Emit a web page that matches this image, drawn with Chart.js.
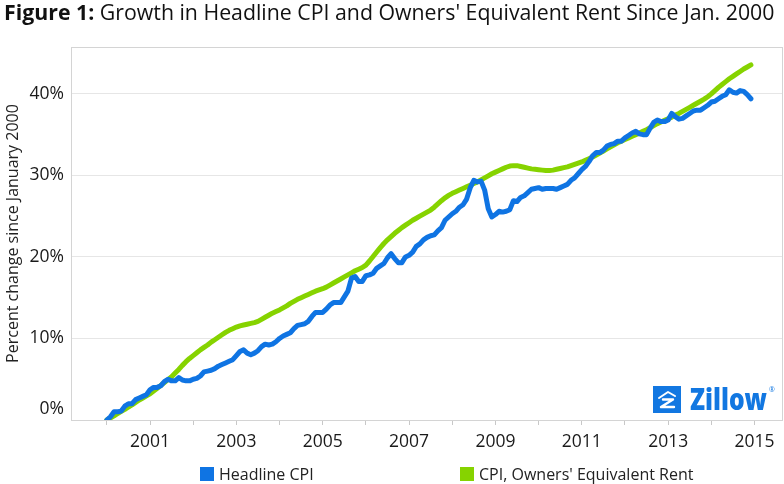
<!DOCTYPE html>
<html>
<head>
<meta charset="utf-8">
<script src="https://cdn.jsdelivr.net/npm/chart.js@4.4.0/dist/chart.umd.min.js"></script>
<style>
  body { margin: 0; background: #fff; font-family: 'Open Sans', sans-serif; }
  #wrap { position: relative; width: 784px; height: 484px; overflow: hidden; }
  canvas { position: absolute; left: 0; top: 0; }
  #title { position: absolute; left: 4px; top: -2px; font-size: 21.3px; line-height: 28px; color: #111; white-space: nowrap; }
  #legend { position: absolute; left: 0; top: 462px; width: 784px; height: 24px; font-size: 16px; color: #222; }
  .item { position: absolute; top: 0; height: 24px; display: flex; align-items: center; white-space: nowrap; }
  .swatch { width: 14px; height: 14px; margin-right: 5px; }
</style>
</head>
<body>
<div id="wrap">
  <canvas id="cpiChart" width="784" height="484"></canvas>
  <div id="title"><b>Figure 1:</b> Growth in Headline CPI and Owners' Equivalent Rent Since Jan. 2000</div>
  <div id="legend"></div>
</div>
<script>
// monthly values, Jan 2000 - Dec 2014, percent change since January 2000
const startYear = 2000;

const headlineCPI = [
  0.0, 0.4, 1.0, 1.0, 1.1, 1.7, 2.0, 2.0, 2.5, 2.7, 2.9, 3.1,
  3.7, 4.0, 4.0, 4.2, 4.7, 5.0, 4.8, 4.8, 5.2, 4.9, 4.8, 4.8,
  5.0, 5.1, 5.4, 5.9, 6.0, 6.1, 6.3, 6.6, 6.8, 7.0, 7.2, 7.4,
  7.9, 8.4, 8.6, 8.2, 8.0, 8.2, 8.5, 9.0, 9.3, 9.2, 9.3, 9.6,
  10.0, 10.3, 10.5, 10.7, 11.2, 11.6, 11.7, 11.8, 12.1, 12.7, 13.2, 13.2,
  13.2, 13.6, 14.1, 14.4, 14.4, 14.4, 15.1, 15.8, 17.4, 17.6, 17.0, 17.0,
  17.7, 17.8, 18.0, 18.6, 18.9, 19.2, 19.9, 20.4, 19.8, 19.3, 19.3, 20.0,
  20.2, 20.6, 21.3, 21.6, 22.1, 22.4, 22.6, 22.7, 23.2, 23.6, 24.5, 24.9,
  25.3, 25.6, 26.1, 26.4, 27.1, 28.5, 29.4, 29.2, 29.3, 28.2, 25.9, 24.9,
  25.2, 25.6, 25.5, 25.6, 25.8, 26.9, 26.8, 27.3, 27.5, 27.9, 28.3, 28.4,
  28.5, 28.3, 28.4, 28.4, 28.4, 28.3, 28.5, 28.7, 28.9, 29.4, 29.7, 30.2,
  30.7, 31.1, 31.7, 32.4, 32.8, 32.8, 33.1, 33.6, 33.8, 33.9, 34.2, 34.2,
  34.6, 34.9, 35.2, 35.4, 35.1, 35.0, 35.0, 35.8, 36.5, 36.8, 36.6, 36.6,
  36.8, 37.6, 37.2, 36.9, 37.0, 37.3, 37.6, 37.9, 38.0, 38.0, 38.3, 38.6,
  39.0, 39.1, 39.4, 39.7, 39.9, 40.5, 40.2, 40.1, 40.4, 40.3, 39.9, 39.4
];

const ownersRent = [
  0.0, 0.25, 0.5, 0.8, 1.05, 1.3, 1.6, 1.85, 2.15, 2.45, 2.7, 2.95,
  3.2, 3.55, 3.9, 4.25, 4.6, 4.95, 5.3, 5.75, 6.2, 6.7, 7.15, 7.55,
  7.9, 8.25, 8.6, 8.9, 9.2, 9.55, 9.85, 10.15, 10.45, 10.75, 11.0, 11.2,
  11.4, 11.55, 11.65, 11.75, 11.85, 11.95, 12.1, 12.35, 12.6, 12.85, 13.1, 13.3,
  13.5, 13.75, 14.0, 14.3, 14.55, 14.8, 15.0, 15.2, 15.4, 15.6, 15.8, 15.95,
  16.1, 16.3, 16.55, 16.8, 17.05, 17.3, 17.55, 17.8, 18.05, 18.3, 18.5, 18.7,
  19.0, 19.5, 20.05, 20.6, 21.15, 21.65, 22.1, 22.5, 22.9, 23.25, 23.6, 23.9,
  24.2, 24.5, 24.75, 25.0, 25.25, 25.5, 25.75, 26.1, 26.5, 26.9, 27.25, 27.55,
  27.8, 28.0, 28.2, 28.4, 28.6, 28.8, 29.0, 29.2, 29.45, 29.7, 29.95, 30.2,
  30.4, 30.6, 30.8, 31.0, 31.15, 31.2, 31.2, 31.1, 31.0, 30.9, 30.8, 30.75,
  30.7, 30.65, 30.6, 30.6, 30.65, 30.75, 30.85, 30.95, 31.05, 31.2, 31.35, 31.5,
  31.65, 31.85, 32.05, 32.25, 32.5, 32.75, 33.0, 33.25, 33.5, 33.75, 34.0, 34.2,
  34.4, 34.6, 34.8, 35.0, 35.2, 35.4, 35.6, 35.85, 36.1, 36.35, 36.55, 36.75,
  36.95, 37.15, 37.4, 37.6, 37.85, 38.1, 38.35, 38.6, 38.85, 39.1, 39.35, 39.65,
  40.0, 40.4, 40.8, 41.15, 41.5, 41.85, 42.15, 42.45, 42.75, 43.05, 43.3, 43.55
];

const seriesNames = ['Headline CPI', "CPI, Owners' Equivalent Rent"];
const seriesColors = ['#0F74E3', '#86D300'];
const labelYears = [2001, 2003, 2005, 2007, 2009, 2011, 2013, 2015];

const toPoints = arr => arr.map((v, i) => ({ x: startYear + i / 12, y: v }));

// box around the plot area
const plotBorder = {
    id: 'plotBorder',
    beforeDatasetsDraw(chart) {
        const { ctx, chartArea: a } = chart;
        ctx.save();
        ctx.strokeStyle = '#d4d4d4';
        ctx.lineWidth = 1;
        ctx.strokeRect(Math.round(a.left) + 0.5, Math.round(a.top) + 0.5,
            Math.round(a.right - a.left) - 1, Math.round(a.bottom - a.top));
        ctx.restore();
    }
};

// zillow mark in the lower right corner
const zillowLogo = {
    id: 'zillowLogo',
    afterDraw(chart) {
        const { ctx, chartArea: a } = chart;
        const sx = a.right - 130, sy = a.bottom - 34;
        ctx.save();
        ctx.fillStyle = '#1277E1';
        ctx.fillRect(sx, sy, 28, 27);
        ctx.strokeStyle = '#fff';
        ctx.lineCap = 'round';
        ctx.lineJoin = 'round';
        ctx.lineWidth = 2;
        ctx.beginPath();
        ctx.moveTo(sx + 6, sy + 12);
        ctx.lineTo(sx + 15, sy + 6);
        ctx.lineTo(sx + 22, sy + 10);
        ctx.stroke();
        ctx.lineWidth = 2.4;
        ctx.beginPath();
        ctx.moveTo(sx + 10, sy + 13.5);
        ctx.lineTo(sx + 20, sy + 13.5);
        ctx.lineTo(sx + 8, sy + 21);
        ctx.lineTo(sx + 21, sy + 21);
        ctx.stroke();
        ctx.fillStyle = '#1277E1';
        ctx.font = '800 30px "Open Sans"';
        ctx.textBaseline = 'alphabetic';
        ctx.fillText('Zillow', sx + 37, sy + 24, 77);
        ctx.font = '7px "Open Sans"';
        ctx.fillText('®', sx + 116, sy + 6);
        ctx.restore();
    }
};

Chart.defaults.font.family = "'Open Sans', sans-serif";
Chart.defaults.color = '#1a1a1a';

const chart = new Chart(document.getElementById('cpiChart'), {
    type: 'line',
    data: {
        datasets: [
            { label: seriesNames[0], data: toPoints(headlineCPI), borderColor: seriesColors[0], backgroundColor: seriesColors[0] },
            { label: seriesNames[1], data: toPoints(ownersRent), borderColor: seriesColors[1], backgroundColor: seriesColors[1] }
        ]
    },
    options: {
        responsive: false,
        animation: false,
        elements: {
            line: { borderWidth: 5, tension: 0, borderCapStyle: 'round', borderJoinStyle: 'round', fill: false },
            point: { radius: 0, hoverRadius: 0 }
        },
        layout: { padding: { top: 47, right: 1, bottom: 28, left: 0 } },
        plugins: {
            legend: { display: false },
            tooltip: { enabled: false }
        },
        scales: {
            x: {
                type: 'linear',
                min: 1999.17,
                max: 2015.66,
                border: { display: false },
                grid: { drawOnChartArea: false, drawTicks: true, tickLength: 5, color: '#c8c8c8' },
                ticks: {
                    stepSize: 1,
                    includeBounds: false,
                    autoSkip: false,
                    maxRotation: 0,
                    padding: 7,
                    font: { size: 17.5 },
                    callback: v => labelYears.includes(v) ? String(v) : ''
                },
                afterFit: scale => { scale.height = 36; }
            },
            y: {
                min: 0,
                max: 45.75,
                border: { display: false },
                grid: { drawTicks: false, color: ctx => ctx.tick && ctx.tick.value === 0 ? 'rgba(0,0,0,0)' : '#e6e6e6' },
                ticks: {
                    stepSize: 10,
                    includeBounds: false,
                    padding: 7,
                    font: { size: 17.5 },
                    callback: v => v === 0 ? ['0%', ''] : v + '%'
                },
                title: {
                    display: true,
                    text: 'Percent change since January 2000',
                    font: { size: 16 },
                    color: '#222',
                    padding: { top: 4, bottom: 0 }
                },
                afterFit: scale => { scale.width = 71; }
            }
        }
    },
    plugins: [plotBorder, zillowLogo]
});

// legend items under the axis
const legendEl = document.getElementById('legend');
const legendLeft = [200, 460];
chart.data.datasets.forEach((ds, i) => {
    const item = document.createElement('div');
    item.className = 'item';
    item.style.left = legendLeft[i] + 'px';
    const sw = document.createElement('span');
    sw.className = 'swatch';
    sw.style.background = ds.borderColor;
    const txt = document.createElement('span');
    txt.textContent = ds.label;
    item.appendChild(sw);
    item.appendChild(txt);
    legendEl.appendChild(item);
});
</script>
</body>
</html>
